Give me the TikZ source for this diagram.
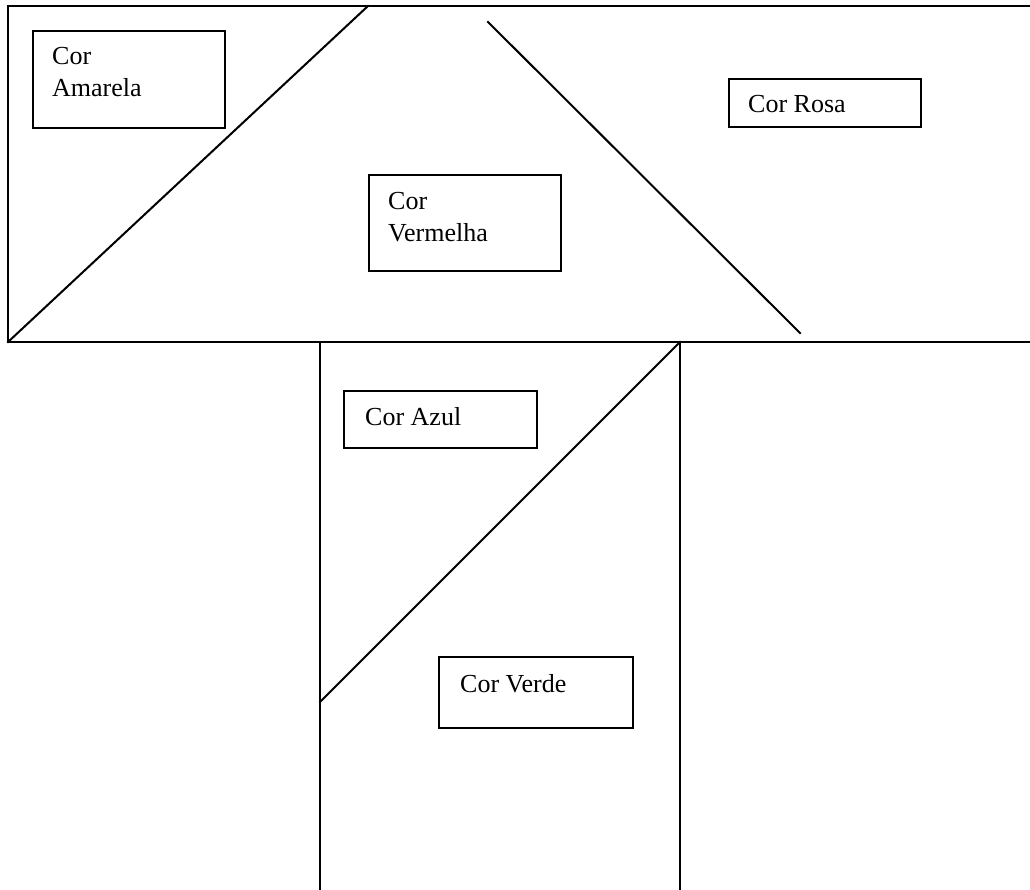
\documentclass[tikz,border=0pt]{standalone}
\usepackage{fontspec}
\setmainfont{Liberation Serif}
\begin{document}
\begin{tikzpicture}[x=1pt,y=-1pt,
  edge/.style={line width=2pt, line cap=rect},
  colorbox/.style={draw, line width=2pt, rectangle, inner sep=0pt, anchor=north west},
  label/.style={anchor=base west, inner sep=0pt, align=left, font=\fontsize{26}{32}\selectfont}]
\useasboundingbox (0,0) rectangle (1030,890);
% outer frame coordinates
\coordinate (tl) at (8,6);
\coordinate (tr) at (1030,6);
\coordinate (bl) at (8,342);
\coordinate (br) at (1030,342);
\coordinate (d1top) at (368,6);
\coordinate (d2a) at (488,22);
\coordinate (d2b) at (800,333);
\coordinate (vl) at (320,342);
\coordinate (vlb) at (320,890);
\coordinate (vr) at (680,342);
\coordinate (vrb) at (680,890);
\coordinate (d3) at (320,702);
\draw[edge] (tr) -- (tl) -- (bl) -- (br);
\draw[edge] (bl) -- (d1top);
\draw[edge] (d2a) -- (d2b);
\draw[edge] (vl) -- (vlb);
\draw[edge] (vr) -- (vrb);
\draw[edge] (d3) -- (vr);
% boxes
\node[colorbox, minimum width=192pt, minimum height=97pt] (amarela) at (32,30) {};
\node[label] (tamarela) at (52,97) {Cor\\Amarela};
\node[colorbox, minimum width=192pt, minimum height=48pt] (rosa) at (728,78) {};
\node[label] (trosa) at (748,113) {Cor Rosa};
\node[colorbox, minimum width=192pt, minimum height=96pt] (vermelha) at (368,174) {};
\node[label] (tvermelha) at (388,242) {Cor\\Vermelha};
\node[colorbox, minimum width=193pt, minimum height=57pt] (azul) at (343,390) {};
\node[label] (tazul) at (365,425) {Cor Azul};
\node[colorbox, minimum width=194pt, minimum height=71pt] (verde) at (438,656) {};
\node[label] (tverde) at (460,692) {Cor Verde};
\end{tikzpicture}
\end{document}
